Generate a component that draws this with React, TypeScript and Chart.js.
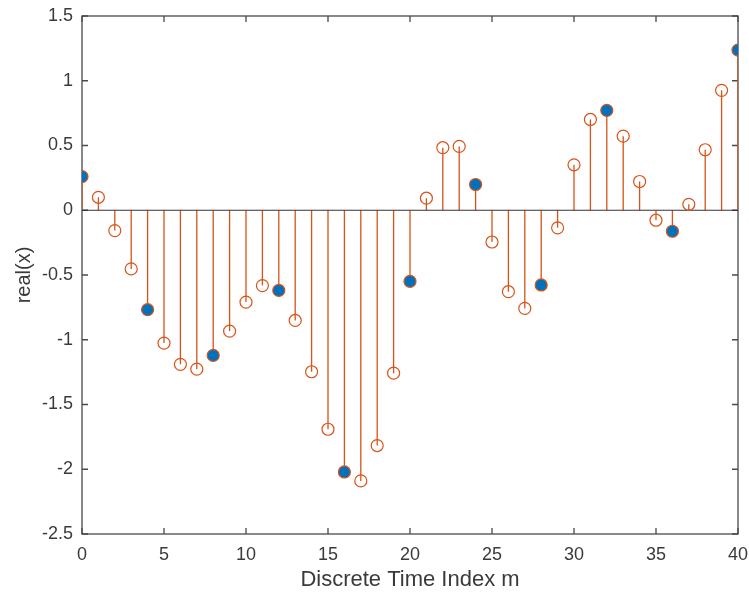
import { useEffect, useRef } from 'react';
import { Chart, registerables } from 'chart.js';

Chart.register(...registerables);

// Discrete time index m = 0..40
const indexM: number[] = Array.from({ length: 41 }, (_, i) => i);

// real(x) values
const realX: number[] = [
  0.26, 0.1, -0.157, -0.453, -0.768, -1.026, -1.19, -1.227, -1.121, -0.933,
  -0.709, -0.582, -0.619, -0.851, -1.247, -1.691, -2.021, -2.09, -1.817, -1.258,
  -0.549, 0.093, 0.483, 0.493, 0.199, -0.245, -0.629, -0.758, -0.577, -0.136,
  0.351, 0.701, 0.771, 0.572, 0.222, -0.077, -0.162, 0.046, 0.467, 0.926,
  1.237,
];

// indices highlighted with filled blue markers (every 4th sample)
const highlightM: number[] = [0, 4, 8, 12, 16, 20, 24, 28, 32, 36, 40];

const xTickValues: number[] = [0, 5, 10, 15, 20, 25, 30, 35, 40];
const yTickValues: number[] = [-2.5, -2, -1.5, -1, -0.5, 0, 0.5, 1, 1.5];

const ORANGE = '#D95319';
const BLUE = '#0072BD';
const AXIS = '#4a4a4a';
const TEXT = '#3a3a3a';
const FONT = '"Liberation Sans", Arial, Helvetica, sans-serif';

const boxPlugin = {
  id: 'matlabBox',
  beforeDatasetsDraw(chart: any) {
    const { ctx, chartArea, scales } = chart;
    const { left, right, top, bottom } = chartArea;
    const tl = 6;
    ctx.save();
    ctx.strokeStyle = AXIS;
    ctx.lineWidth = 1.3;
    ctx.strokeRect(left, top, right - left, bottom - top);
    ctx.beginPath();
    scales.x.ticks.forEach((t: any) => {
      const px = scales.x.getPixelForValue(t.value);
      ctx.moveTo(px, bottom);
      ctx.lineTo(px, bottom - tl);
      ctx.moveTo(px, top);
      ctx.lineTo(px, top + tl);
    });
    scales.y.ticks.forEach((t: any) => {
      const py = scales.y.getPixelForValue(t.value);
      ctx.moveTo(left, py);
      ctx.lineTo(left + tl, py);
      ctx.moveTo(right, py);
      ctx.lineTo(right - tl, py);
    });
    ctx.stroke();
    ctx.restore();
  },
};

export default function App() {
  const ref = useRef<HTMLCanvasElement | null>(null);

  useEffect(() => {
    if (!ref.current) return;
    const stemData: any[] = [];
    indexM.forEach((m, i) => {
      stemData.push({ x: m, y: 0 });
      stemData.push({ x: m, y: realX[i] });
      stemData.push({ x: m, y: null });
    });
    const allPts = indexM.map((m, i) => ({ x: m, y: realX[i] }));
    const bluePts = highlightM.map((m) => ({ x: m, y: realX[m] }));

    const chart = new Chart(ref.current, {
      type: 'scatter',
      data: {
        datasets: [
          {
            label: 'samples',
            data: allPts,
            pointStyle: 'circle',
            pointRadius: 6,
            pointBorderWidth: 1.2,
            pointBorderColor: ORANGE,
            pointBackgroundColor: 'rgba(0,0,0,0)',
            showLine: false,
            order: 0,
          },
          {
            label: 'highlight',
            data: bluePts,
            pointStyle: 'circle',
            pointRadius: 6,
            pointBorderWidth: 0,
            pointBackgroundColor: BLUE,
            showLine: false,
            order: 1,
          },
          {
            label: 'baseline',
            data: [
              { x: xTickValues[0], y: 0 },
              { x: xTickValues[xTickValues.length - 1], y: 0 },
            ],
            showLine: true,
            borderColor: '#333333',
            borderWidth: 1.2,
            pointRadius: 0,
            order: 2,
          },
          {
            label: 'stems',
            data: stemData,
            showLine: true,
            spanGaps: false,
            borderColor: ORANGE,
            borderWidth: 1.3,
            pointRadius: 0,
            order: 3,
          },
        ],
      },
      options: {
        animation: false,
        responsive: false,
        layout: { padding: { top: 16, right: 11, left: 0, bottom: 0 } },
        plugins: {
          legend: { display: false },
          tooltip: { enabled: false },
        },
        scales: {
          x: {
            type: 'linear',
            min: 0,
            max: 40,
            offset: false,
            afterBuildTicks: (s: any) => {
              s.ticks = xTickValues.map((v) => ({ value: v }));
            },
            afterFit: (s: any) => {
              s.height = 61;
              s.paddingLeft = 0;
              s.paddingRight = 0;
            },
            grid: { display: false, drawTicks: false },
            border: { display: false },
            ticks: {
              autoSkip: false,
              maxRotation: 0,
              padding: 10,
              color: TEXT,
              font: { family: FONT, size: 18 },
            },
            title: {
              display: true,
              text: 'Discrete Time Index m',
              color: TEXT,
              font: { family: FONT, size: 22 },
              padding: { top: 0, bottom: 2 },
            },
          },
          y: {
            type: 'linear',
            min: -2.5,
            max: 1.5,
            afterBuildTicks: (s: any) => {
              s.ticks = yTickValues.map((v) => ({ value: v }));
            },
            afterFit: (s: any) => {
              s.width = 82;
              s.paddingTop = 0;
              s.paddingBottom = 0;
            },
            grid: { display: false, drawTicks: false },
            border: { display: false },
            ticks: {
              autoSkip: false,
              padding: 9,
              color: TEXT,
              font: { family: FONT, size: 18 },
              callback: (v: any) => String(Number(Number(v).toFixed(2))),
            },
            title: {
              display: true,
              text: 'real(x)',
              color: TEXT,
              font: { family: FONT, size: 20 },
              padding: { top: 12, bottom: 0 },
            },
          },
        },
      },
      plugins: [boxPlugin],
    });
    return () => chart.destroy();
  }, []);

  return (
    <div style={{ position: 'fixed', left: 0, top: 0, width: 749, height: 595, background: '#fff' }}>
      <canvas ref={ref} width={749} height={595} />
    </div>
  );
}
